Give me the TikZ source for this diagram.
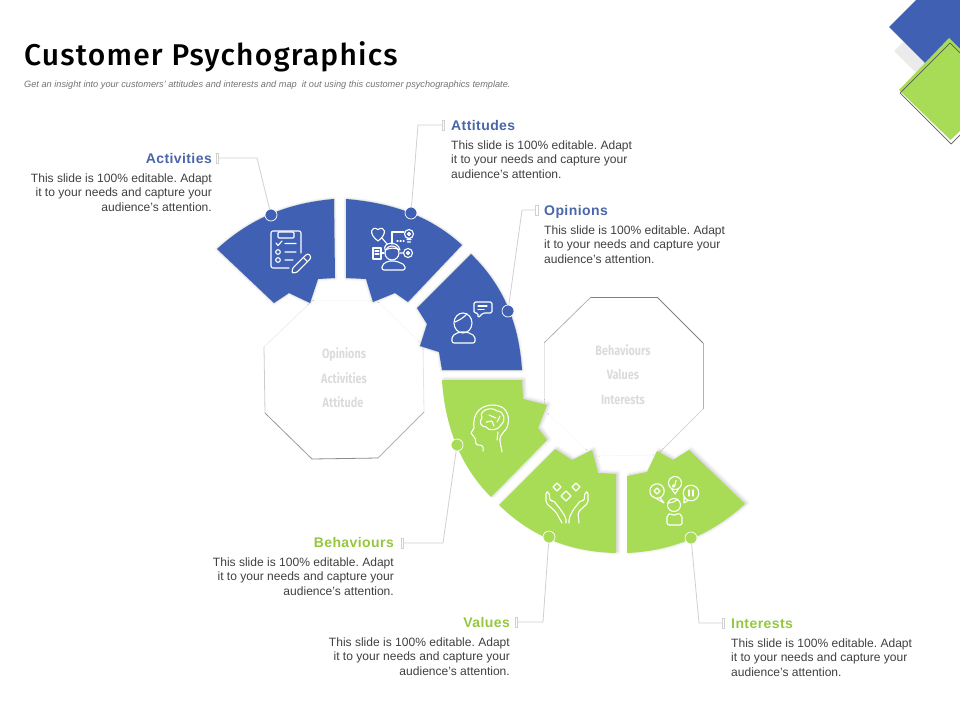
\documentclass[tikz,border=0pt]{standalone}
\usepackage{fontspec}
\setmainfont{Liberation Sans}
\newfontfamily\titlefont{Fira Sans Medium}
\newfontfamily\octfont[FakeStretch=.8]{Fira Sans}
\usetikzlibrary{positioning, shadows.blur}
\definecolor{slideblue}{HTML}{4061B3}
\definecolor{slidegreen}{HTML}{A8DB56}
\definecolor{headblue}{HTML}{4A66A8}
\definecolor{headgreen}{HTML}{93C83E}
\definecolor{bodygray}{HTML}{404040}
\definecolor{leadgray}{HTML}{D0D0D0}
\tikzset{
  bluepart/.style={fill=slideblue, blur shadow={shadow xshift=0pt, shadow yshift=0pt, shadow opacity=25, shadow blur radius=2.5pt}},
  greenpart/.style={fill=slidegreen, blur shadow={shadow xshift=2pt, shadow yshift=1pt, shadow opacity=20, shadow blur radius=3pt}},
  dotblue/.style={circle, fill=slideblue, draw=white, line width=.7pt, minimum size=12pt, inner sep=0pt},
  dotgreen/.style={circle, fill=slidegreen, draw=white, line width=.7pt, minimum size=12pt, inner sep=0pt},
  tickbox/.style={draw=leadgray, line width=.7pt, minimum width=2.5pt, minimum height=10pt, inner sep=0pt},
  leader/.style={draw=leadgray, line width=.8pt},
  headtext/.style={font=\bfseries\fontsize{14}{16}\selectfont\addfontfeatures{LetterSpace=3}, inner sep=0pt, text height=10pt, text depth=3pt},
  bodyleft/.style={font=\frenchspacing\fontsize{12.05}{14.8}\selectfont, text=bodygray, align=left, inner sep=0pt},
  bodyright/.style={font=\frenchspacing\fontsize{12.05}{14.8}\selectfont, text=bodygray, align=right, inner sep=0pt},
  octtext/.style={font=\octfont\bfseries\fontsize{13.5}{15}\selectfont, text=black!14, inner sep=0pt, text height=10pt, text depth=0pt},
  icon/.style={draw=white, line width=1.1pt, line cap=round, line join=round},
}
\begin{document}
\begin{tikzpicture}[x=1pt, y=-1pt]
  \useasboundingbox (0,0) rectangle (960,720);

  % corner
  \fill[black!8] (894,51) -- (945,0) -- (960,0) -- (960,117) -- cycle;
  \fill[slideblue] (889,27) -- (916,0) -- (960,0) -- (960,98) -- cycle;
  \fill[slidegreen] (899,90) -- (949,38) -- (960,49) -- (960,131) -- (950.5,140) -- cycle;
  \draw[black!65, line width=.7pt] (960,53) -- (950,43) -- (900,93) -- (951,144) -- (960,135);

  % octagons
  \foreach \i/\p in {1/{264,347}, 2/{313,300}, 3/{376,300}, 4/{423,345}, 5/{424,412}, 6/{378,458}, 7/{312,459}, 8/{265,413}}
    \coordinate (L\i) at (\p);
  \foreach \i/\p in {1/{544,343}, 2/{591,297}, 3/{657,297}, 4/{703,343}, 5/{703,409}, 6/{657,455}, 7/{593,456}, 8/{544,410}}
    \coordinate (R\i) at (\p);
  \foreach \i/\j/\g in {1/2/7, 2/3/2, 3/4/3, 4/5/10, 5/6/30, 6/7/45, 7/8/40, 8/1/20}
    \draw[black!\g, line width=.8pt] (L\i) -- (L\j);
  \foreach \i/\j/\g in {1/2/30, 2/3/50, 3/4/50, 4/5/30, 5/6/15, 6/7/3, 7/8/2, 8/1/10}
    \draw[black!\g, line width=.8pt] (R\i) -- (R\j);

  \node[octtext] (octA) at (344,353) {Opinions};
  \node[octtext] (octB) at (344,378) {Activities};
  \node[octtext] (octC) at (343,402) {Attitude};
  \node[octtext] (octD) at (623,350) {Behaviours};
  \node[octtext] (octE) at (623,374) {Values};
  \node[octtext] (octF) at (623,399) {Interests};

  % blue parts
  \path[bluepart] (217,249) .. controls (251,218) and (288,203) .. (334,199) -- (335,278) -- (318,279) -- (310,303) -- (289,293) -- (274,303) -- cycle;
  \path[bluepart] (346,199) .. controls (393,203) and (430,216) .. (462,245) -- (408,302) -- (395,293) -- (373,302) -- (366,279) -- (346,278) -- cycle;
  \path[bluepart] (471,254) .. controls (504,286) and (519,324) .. (522,370) -- (442,370) -- (439,352) -- (420,346) -- (427,324) -- (417,308) -- cycle;
  % green parts
  \path[greenpart] (491,497) .. controls (460,466) and (445,426) .. (442,380) -- (522,380) -- (523,399) -- (547,405) -- (538,428) -- (547,440) -- cycle;
  \path[greenpart] (499,505) .. controls (532,537) and (570,552) .. (616,553) -- (616,474) -- (598,473) -- (592,450) -- (572,460) -- (555,449) -- cycle;
  \path[greenpart] (627,553) .. controls (673,551) and (712,534) .. (745,504) -- (689,450) -- (673,460) -- (657,451) -- (647,472) -- (627,476) -- cycle;

  % clipboard
  \draw[icon, rounded corners=2pt] (301,253) -- (301,231) -- (271,231) -- (271,268) -- (289,268);
  \draw[icon, rounded corners=1pt] (278,232) rectangle (294,238);
  \draw[icon] (276,243) -- (278,245.5) -- (282,241) (285,243.5) -- (296,243.5);
  \draw[icon] (278,252) circle (2.3) (285,252) -- (296,252);
  \draw[icon] (278,260) circle (2.3) (285,260) -- (293,260);
  \draw[icon, rounded corners=1pt] (292,273) -- (292.7,268.1) -- (306.2,254.6) -- (308.6,254) -- (310.6,256) -- (310.4,258.8) -- (296.9,272.3) -- cycle;
  \draw[icon] (303.3,257.5) -- (307.5,261.7);

  % attitudes icon
  \draw[icon] (392,253) circle (7);
  \draw[icon] (385,250) .. controls (382,242) and (398,240) .. (400,250) .. controls (395,247) and (390,248) .. (385,250);
  \draw[icon, rounded corners=2pt] (382,270) -- (382,265) -- (388,261) -- (396,261) -- (405,265) -- (405,270) -- cycle;
  \draw[icon] (378,241) .. controls (368,234) and (371,225) .. (378,229.5) .. controls (385,225) and (388,234) .. (378,241);
  \draw[icon] (382,238) -- (387,244);
  \draw[icon] (392,244) -- (392,232) -- (404,232);
  \draw[icon, dotted] (397,241) -- (404,241);
  \draw[icon] (409,234) circle (4.5) (407,239.5) -- (411,239.5) (407.5,242) -- (410.5,242) (409,234) circle (1.5);
  \draw[icon] (373,248) rectangle (381,259) (375,251) -- (379,251) (375,254) -- (379,254) (381,253) -- (384,253);
  \draw[icon] (408,253) circle (4.5) (408,253) circle (1.5) (400,253) -- (403.5,253);

  % opinions icon
  \draw[icon] (463,323) ellipse (9 and 10);
  \draw[icon] (455,322) .. controls (460,320) and (464,317) .. (467,314);
  \draw[icon, rounded corners=2pt] (452,343) -- (452,336) -- (459,332) -- (467,332) -- (475,336) -- (475,343) -- cycle;
  \draw[icon, rounded corners=1.5pt] (474,302) -- (492,302) -- (492,313) -- (483,313) -- (478,318) -- (478,313) -- (474,313) -- cycle;
  \draw[icon] (478,306) -- (487,306) (478,309.5) -- (484,309.5);

  % brain icon
  \draw[icon] (483,451) .. controls (484,446) and (482,445) .. (478,445) .. controls (474,445) and (477,439) .. (474,437) -- (471,433) -- (474,428) .. controls (472,412) and (482,405) .. (493,405) .. controls (505,405) and (510,414) .. (508,424) .. controls (507,432) and (499,433) .. (500,441) -- (502,452);
  \draw[icon] (482,418) .. controls (478,410) and (492,406) .. (497,411) .. controls (505,411) and (506,422) .. (501,425) .. controls (498,431) and (488,431) .. (486,427) .. controls (480,427) and (479,421) .. (482,418);
  \draw[icon] (489,415) -- (496,418) (486,422) -- (492,421) -- (494,426) (500,416) -- (497,422) (498,432) -- (497,440);

  % hands icon
  \draw[icon] (557,483) -- (561,487) -- (557,491) -- (553,487) -- cycle;
  \draw[icon] (576,483) -- (580,487) -- (576,491) -- (572,487) -- cycle;
  \draw[icon] (566,491) -- (571,496) -- (566,501) -- (561,496) -- cycle;
  \draw[icon, rounded corners=2pt] (562,523) -- (556,512) -- (546,503) -- (546,492) -- (549,492) -- (550,501) -- (553,500) -- (561,510) -- (566,518) -- (566,523);
  \draw[icon, rounded corners=2pt] (579,523) -- (578,512) -- (588,503) -- (588,492) -- (585,492) -- (584,501) -- (581,500) -- (573,510) -- (569,518) -- (569,523);

  % interests icon
  \draw[icon] (657,491) circle (7.2) (652,496) -- (664,503) -- (660,497.5);
  \draw[icon] (654,491) -- (657,488) -- (660,491) -- (657,494) -- cycle;
  \draw[icon] (675,483) circle (6.5) (671,488) -- (675,494) -- (679,488);
  \draw[icon] (673.5,486) circle (1.2) (674.7,486) -- (676,480.5);
  \draw[icon] (691,493) circle (7.8) (684,498) -- (684,503) -- (688,500.5);
  \draw[icon] (689,490) -- (689,496) (693,490) -- (693,496);
  \draw[icon] (674,505) circle (6.5);
  \draw[icon] (668,503) .. controls (672,503) and (676,501) .. (678,499);
  \draw[icon, rounded corners=2pt] (667,525) -- (667,515) -- (671,513) -- (674,516) -- (677,513) -- (682,515) -- (682,525) -- cycle;

  % callout dots
  \node[dotblue] (dotAct) at (271,215) {};
  \node[dotblue] (dotAtt) at (411,213) {};
  \node[dotblue] (dotOpi) at (508,311) {};
  \node[dotgreen] (dotBeh) at (457,445) {};
  \node[dotgreen] (dotVal) at (549,537) {};
  \node[dotgreen] (dotInt) at (691,538) {};

  \node[tickbox] (tickAct) at (217.5,158) {};
  \node[tickbox] (tickAtt) at (443.5,125) {};
  \node[tickbox] (tickOpi) at (537,210) {};
  \node[tickbox] (tickBeh) at (402.5,543) {};
  \node[tickbox] (tickVal) at (516.5,622) {};
  \node[tickbox] (tickInt) at (723.5,623) {};

  \coordinate (bendAct) at (257,158);
  \coordinate (bendAtt) at (418,125);
  \coordinate (bendOpi) at (522,210);
  \coordinate (bendBeh) at (443,543);
  \coordinate (bendVal) at (543,622);
  \coordinate (bendInt) at (699,623);

  \draw[leader] (dotAct) -- (bendAct) -- (tickAct);
  \draw[leader] (dotAtt) -- (bendAtt) -- (tickAtt);
  \draw[leader] (dotOpi) -- (bendOpi) -- (tickOpi);
  \draw[leader] (dotBeh) -- (bendBeh) -- (tickBeh);
  \draw[leader] (dotVal) -- (bendVal) -- (tickVal);
  \draw[leader] (dotInt) -- (bendInt) -- (tickInt);

  % texts
  \node[anchor=west, inner sep=0pt, font=\titlefont\fontsize{30}{32}\selectfont\addfontfeatures{LetterSpace=4}] (title) at (24,57) {Customer Psychographics};
  \node[anchor=west, inner sep=0pt, text=black!55, font=\itshape\fontsize{9.2}{10}\selectfont] (subtitle) at (24,85) {Get an insight into your customers' attitudes and interests and map\ \ it out using this customer psychographics template.};

  \node[headtext, text=headblue, anchor=east] (headAct) at (212,159.5) {Activities};
  \node[bodyright, below=7pt of headAct.south east, anchor=north east] (bodyAct) {This slide is 100\% editable. Adapt\\it to your needs and capture your\\audience's attention.};
  \node[headtext, text=headblue, anchor=west] (headAtt) at (451,126.5) {Attitudes};
  \node[bodyleft, below=7pt of headAtt.south west, anchor=north west] (bodyAtt) {This slide is 100\% editable. Adapt\\it to your needs and capture your\\audience's attention.};
  \node[headtext, text=headblue, anchor=west] (headOpi) at (544,211.5) {Opinions};
  \node[bodyleft, below=7pt of headOpi.south west, anchor=north west] (bodyOpi) {This slide is 100\% editable. Adapt\\it to your needs and capture your\\audience's attention.};
  \node[headtext, text=headgreen, anchor=east] (headBeh) at (394,543.5) {Behaviours};
  \node[bodyright, below=7pt of headBeh.south east, anchor=north east] (bodyBeh) {This slide is 100\% editable. Adapt\\it to your needs and capture your\\audience's attention.};
  \node[headtext, text=headgreen, anchor=east] (headVal) at (510,623.5) {Values};
  \node[bodyright, below=7pt of headVal.south east, anchor=north east] (bodyVal) {This slide is 100\% editable. Adapt\\it to your needs and capture your\\audience's attention.};
  \node[headtext, text=headgreen, anchor=west] (headInt) at (731,624.5) {Interests};
  \node[bodyleft, below=7pt of headInt.south west, anchor=north west] (bodyInt) {This slide is 100\% editable. Adapt\\it to your needs and capture your\\audience's attention.};
\end{tikzpicture}
\end{document}
